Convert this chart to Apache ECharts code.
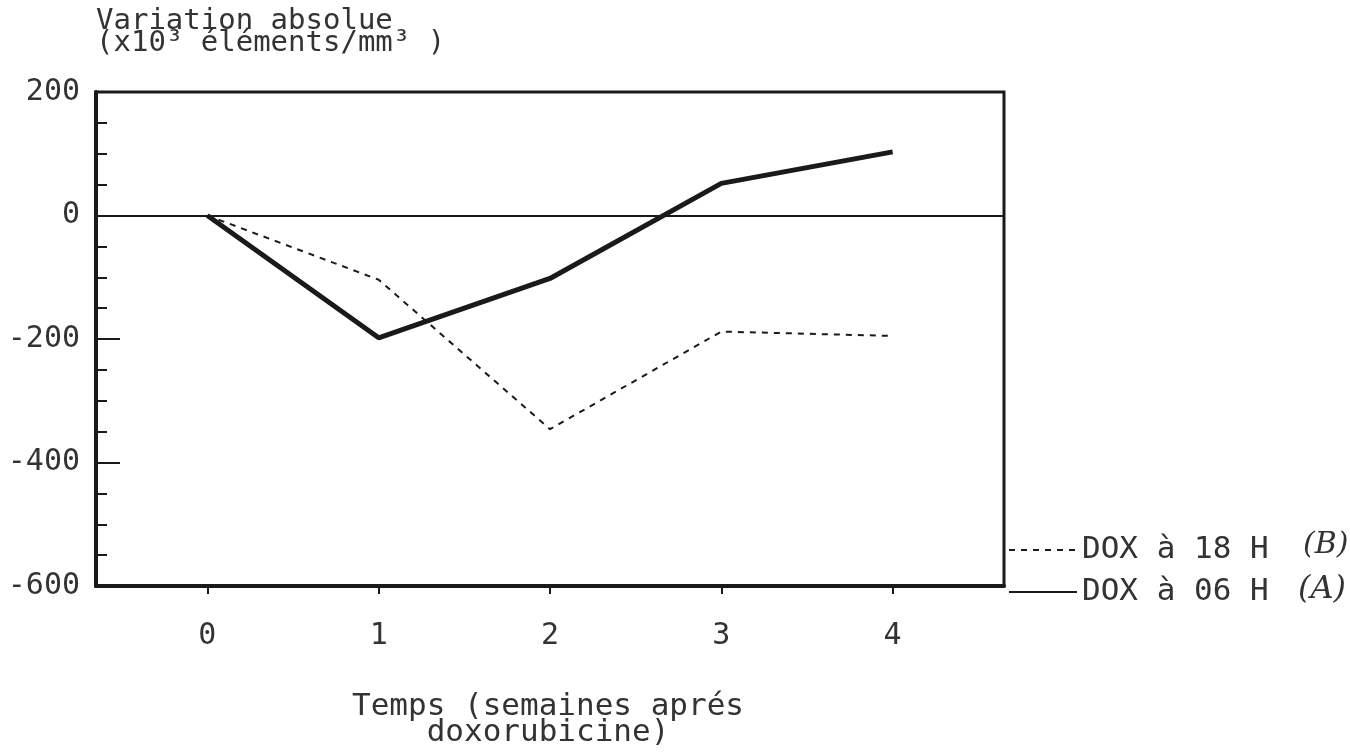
<!DOCTYPE html>
<html>
<head>
<meta charset="utf-8">
<script src="https://cdn.jsdelivr.net/npm/echarts@6/dist/echarts.min.js"></script>
<style>
html,body{margin:0;padding:0;background:#fff;}
#chart{width:1350px;height:755px;}
</style>
</head>
<body>
<div id="chart"></div>
<script>
// ---- data ----
const weeks = [0, 1, 2, 3, 4];
const doxA06 = [0, -198, -102, 52, 103];     // DOX à 06 H (A) - solid
const doxB18 = [0, -104, -346, -188, -195];  // DOX à 18 H (B) - dashed
const xTickValues = [0, 1, 2, 3, 4];
const seriesNames = ['DOX à 18 H', 'DOX à 06 H'];
const titleLines = ['Variation absolue', '(x10³ éléments/mm³ )'];
const xNameLines = ['Temps (semaines aprés', 'doxorubicine)'];
const handLabels = ['(B)', '(A)'];

const FONT = 'DejaVu Sans Mono';
const INK = '#1a1a1a';
const TXT = '#333';

const chart = echarts.init(document.getElementById('chart'), null, {renderer: 'canvas'});

const option = {
  backgroundColor: '#fff',
  animation: false,
  grid: {
    left: 96, right: 346, top: 92, bottom: 169,
    show: true, borderColor: INK, borderWidth: 3, backgroundColor: 'transparent'
  },
  xAxis: {
    type: 'value', min: -0.65, max: 4.65,
    axisLine: {show: true, onZero: false, lineStyle: {color: INK, width: 4}},
    axisTick: {show: true, customValues: xTickValues, length: 8, inside: false, lineStyle: {color: INK, width: 2}},
    axisLabel: {show: true, customValues: xTickValues, margin: 35, fontFamily: FONT, fontSize: 30, color: TXT},
    splitLine: {show: false}
  },
  yAxis: {
    type: 'value', min: -600, max: 200, interval: 200,
    axisLine: {show: true, onZero: false, lineStyle: {color: INK, width: 4}},
    axisTick: {show: true, inside: true, length: 24, lineStyle: {color: INK, width: 2}},
    minorTick: {show: true, splitNumber: 4, length: 11, lineStyle: {color: INK, width: 2}},
    axisLabel: {margin: 16, fontFamily: FONT, fontSize: 30, color: TXT},
    splitLine: {show: false}
  },
  legend: {
    data: seriesNames,
    orient: 'vertical',
    left: 1003, top: 529,
    itemWidth: 68, itemHeight: 14, itemGap: 10,
    lineStyle: {width: 2},
    itemStyle: {opacity: 0},
    textStyle: {fontFamily: FONT, fontSize: 31, lineHeight: 32, color: TXT},
    selectedMode: false
  },
  graphic: [
    {type: 'text', left: 96, top: 7, style: {text: titleLines[0], font: '29px "' + FONT + '"', fill: TXT}},
    {type: 'text', left: 96, top: 29, style: {text: titleLines[1], font: '29px "' + FONT + '"', fill: TXT}},
    {type: 'text', x: 548, y: 707, style: {text: xNameLines[0], font: '31px "' + FONT + '"', fill: TXT, align: 'center', verticalAlign: 'middle'}},
    {type: 'text', x: 548, y: 733, style: {text: xNameLines[1], font: '31px "' + FONT + '"', fill: TXT, align: 'center', verticalAlign: 'middle'}},
    {type: 'text', left: 1303, top: 530, style: {text: handLabels[0], font: 'italic 30px "DejaVu Serif"', fill: TXT}},
    {type: 'text', left: 1298, top: 574, style: {text: handLabels[1], font: 'italic 32px "DejaVu Serif"', fill: TXT}}
  ],
  series: [
    {
      name: seriesNames[0], type: 'line',
      data: weeks.map((w, i) => [w, doxB18[i]]),
      symbol: 'none', smooth: false,
      lineStyle: {color: INK, width: 2, type: [6, 6]},
      itemStyle: {color: INK},
      z: 3
    },
    {
      name: seriesNames[1], type: 'line',
      data: weeks.map((w, i) => [w, doxA06[i]]),
      symbol: 'none', smooth: false,
      lineStyle: {color: INK, width: 5},
      itemStyle: {color: INK},
      markLine: {
        silent: true, symbol: 'none', label: {show: false},
        lineStyle: {color: INK, width: 2, type: 'solid'},
        data: [{yAxis: 0}]
      },
      z: 4
    }
  ]
};
chart.setOption(option);
</script>
</body>
</html>
